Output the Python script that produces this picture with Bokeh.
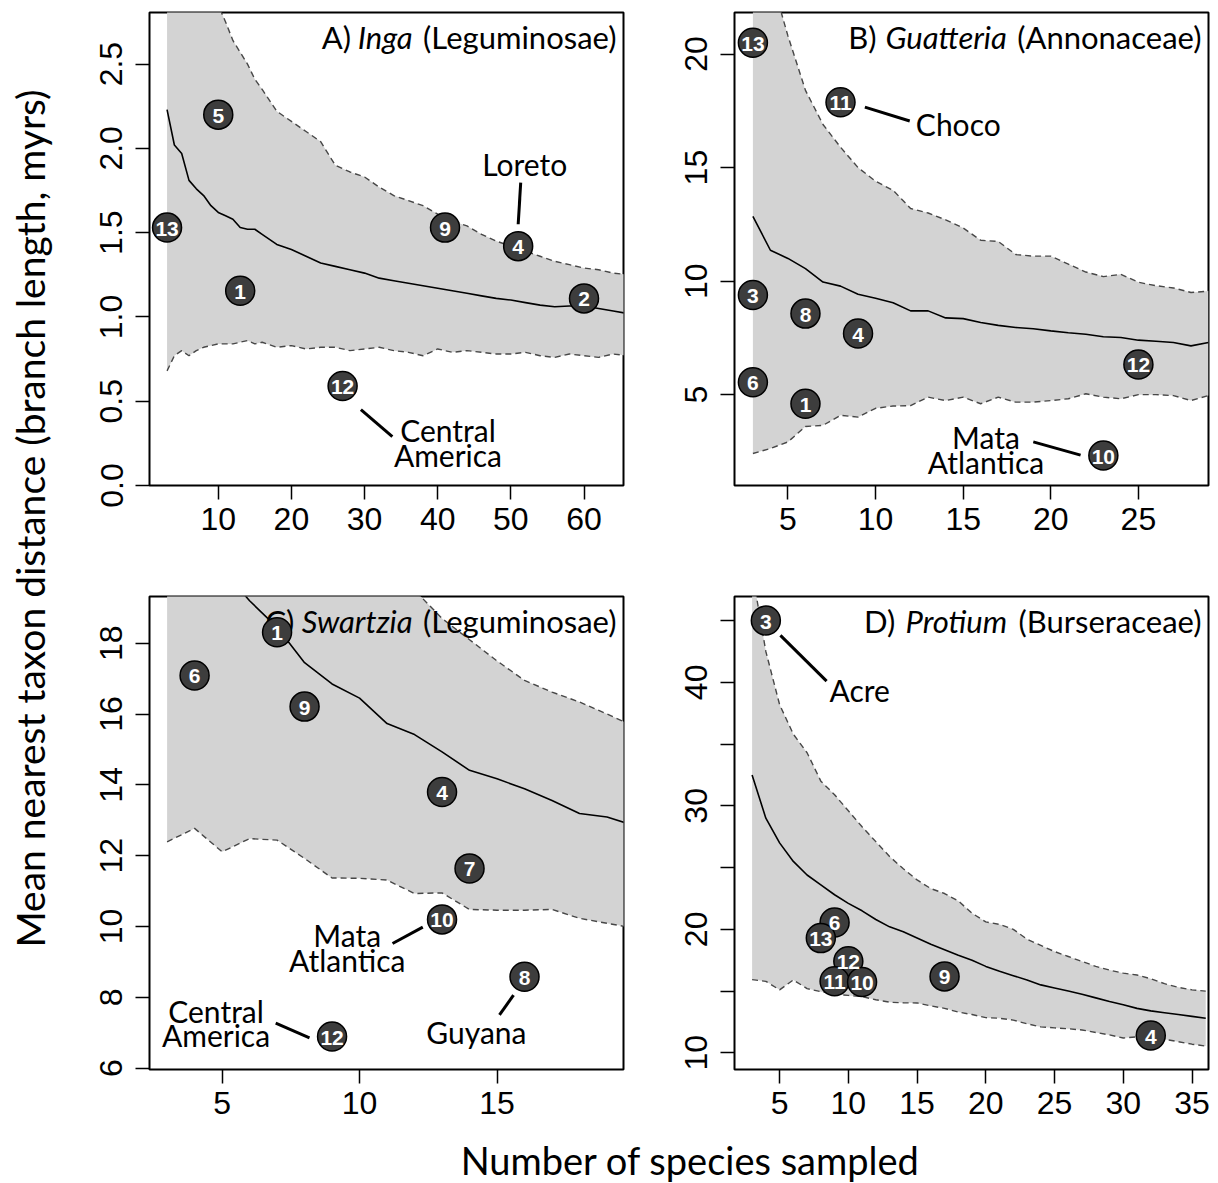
import math
from bokeh.plotting import figure
from bokeh.layouts import column, row
from bokeh.models import Range1d, FixedTicker, NumeralTickFormatter
from bokeh.embed import file_html
from bokeh.resources import INLINE
from bokeh.core.properties import value

# ---------------- data ----------------
# Panel A: Inga (Leguminosae)
a_x = [3, 4, 5, 6, 7, 8, 9, 10, 11, 12, 13, 14, 15, 16, 18, 20, 22, 24, 26, 28, 30, 32, 34, 36,
       38, 40, 42, 44, 46, 48, 50, 52, 54, 56, 58, 60, 62, 64, 66]
a_mean = [2.23, 2.02, 1.97, 1.81, 1.76, 1.72, 1.66, 1.62, 1.60, 1.58, 1.53, 1.52, 1.52, 1.49,
          1.43, 1.40, 1.36, 1.32, 1.30, 1.28, 1.26, 1.23, 1.215, 1.20, 1.185, 1.17, 1.155, 1.14,
          1.125, 1.11, 1.10, 1.085, 1.07, 1.06, 1.065, 1.065, 1.05, 1.035, 1.02]
a_upper = [4.5, 3.9, 3.5, 3.3, 3.15, 3.0, 2.92, 2.85, 2.75, 2.64, 2.57, 2.50, 2.41, 2.35,
           2.22, 2.16, 2.10, 2.04, 1.90, 1.86, 1.83, 1.77, 1.72, 1.69, 1.66, 1.61, 1.57, 1.54,
           1.49, 1.45, 1.42, 1.39, 1.36, 1.33, 1.31, 1.29, 1.28, 1.26, 1.25]
a_lower = [0.68, 0.77, 0.80, 0.77, 0.80, 0.82, 0.83, 0.84, 0.84, 0.84, 0.85, 0.86, 0.84, 0.85,
           0.82, 0.83, 0.81, 0.82, 0.82, 0.80, 0.81, 0.82, 0.80, 0.79, 0.77, 0.81, 0.79, 0.80,
           0.79, 0.78, 0.78, 0.79, 0.77, 0.76, 0.78, 0.77, 0.76, 0.78, 0.77]
a_pt_x = [3, 10, 13, 27, 41, 51, 60]
a_pt_y = [1.53, 2.20, 1.155, 0.59, 1.53, 1.42, 1.11]
a_pt_lab = ["13", "5", "1", "12", "9", "4", "2"]

# Panel B: Guatteria (Annonaceae)
b_x = list(range(3, 30))
b_mean = [12.85, 11.36, 11.0, 10.55, 9.96, 9.78, 9.42, 9.25, 9.05, 8.69, 8.69, 8.38, 8.35, 8.18,
          8.05, 7.96, 7.9, 7.81, 7.73, 7.66, 7.55, 7.52, 7.40, 7.35, 7.30, 7.15, 7.30]
b_upper = [27.0, 23.5, 20.8, 18.4, 16.9, 15.9, 15.0, 14.4, 14.0, 13.2, 13.0, 12.7, 12.34, 11.8,
           11.75, 11.17, 11.1, 11.1, 10.75, 10.4, 10.2, 10.3, 9.95, 9.8, 9.7, 9.5, 9.56]
b_lower = [2.41, 2.63, 2.92, 3.6, 3.65, 4.09, 4.01, 4.4, 4.5, 4.52, 4.89, 4.74, 4.89, 4.6,
           4.89, 4.67, 4.67, 4.74, 4.82, 5.04, 4.89, 4.82, 5.0, 5.0, 4.96, 4.74, 4.96]
b_pt_x = [3, 8, 3, 6, 9, 3, 6, 25, 23]
b_pt_y = [20.5, 17.88, 9.39, 8.57, 7.69, 5.55, 4.6, 6.33, 2.32]
b_pt_lab = ["13", "11", "3", "8", "4", "6", "1", "12", "10"]

# Panel C: Swartzia (Leguminosae)
c_x = list(range(3, 21))
c_mean = [22.0, 20.9, 20.1, 19.2, 18.45, 17.45, 16.85, 16.45, 15.73, 15.42, 14.93, 14.41,
          14.17, 13.89, 13.56, 13.19, 13.09, 12.85]
c_upper = [28.0, 26.5, 25.0, 23.8, 22.7, 21.8, 21.0, 20.4, 19.9, 19.5, 18.7, 18.1, 17.5, 16.95,
           16.62, 16.34, 16.0, 15.65]
c_lower = [12.39, 12.77, 12.11, 12.48, 12.44, 11.92, 11.37, 11.36, 11.31, 10.93, 10.95, 10.48,
           10.46, 10.46, 10.48, 10.23, 10.09, 9.95]
c_pt_x = [7, 4, 8, 13, 14, 13, 16, 9]
c_pt_y = [18.31, 17.09, 16.21, 13.80, 11.64, 10.2, 8.58, 6.89]
c_pt_lab = ["1", "6", "9", "4", "7", "10", "8", "12"]

# Panel D: Protium (Burseraceae)
d_x = list(range(3, 37))
d_mean = [32.5, 29.0, 27.0, 25.5, 24.4, 23.6, 22.8, 22.1, 21.5, 20.8, 20.2, 19.8, 19.3, 18.8,
          18.35, 17.9, 17.5, 17.0, 16.6, 16.25, 15.9, 15.5, 15.25, 15.0, 14.75, 14.45, 14.15,
          13.9, 13.6, 13.4, 13.25, 13.1, 12.95, 12.8]
d_upper = [49.0, 42.5, 38.2, 35.8, 34.3, 32.0, 30.9, 29.6, 28.3, 27.1, 25.9, 24.9, 24.0, 23.3,
           22.9, 22.3, 21.3, 20.6, 20.4, 20.0, 19.2, 18.7, 18.2, 17.8, 17.4, 17.0, 16.7, 16.45,
           16.3, 16.0, 15.6, 15.3, 15.1, 15.0]
d_lower = [15.93, 15.79, 15.1, 15.9, 15.2, 14.95, 14.75, 14.65, 14.55, 14.3, 14.1, 14.05,
           14.04, 13.8, 13.6, 13.3, 13.1, 12.85, 12.8, 12.65, 12.35, 12.1, 12.02, 11.95, 11.85,
           11.65, 11.45, 11.2, 11.3, 11.35, 11.1, 10.9, 10.7, 10.55]
d_pt_x = [4, 9, 8, 10, 9, 11, 17, 32]
d_pt_y = [45.0, 20.56, 19.29, 17.41, 15.8, 15.74, 16.19, 11.4]
d_pt_lab = ["3", "6", "13", "12", "11", "10", "9", "4"]

# region annotations: (text, x, y) and leader lines (x0, y0, x1, y1)
a_notes = [("Loreto", 51.9, 1.906), ("Central", 41.4, 0.332), ("America", 41.4, 0.183)]
a_leads = [(51.35, 1.797, 51.0, 1.55), (29.5, 0.45, 33.8, 0.29)]
b_notes = [("Choco", 14.72, 16.93), ("Mata", 16.3, 3.14), ("Atlantica", 16.3, 2.04)]
b_leads = [(9.39, 17.66, 11.95, 17.05), (19.0, 2.92, 21.7, 2.34)]
c_notes = [("Mata", 9.55, 9.76), ("Atlantica", 9.55, 9.04), ("Central", 4.78, 7.6),
           ("America", 4.78, 6.94), ("Guyana", 14.25, 7.03)]
c_leads = [(11.2, 9.52, 12.3, 9.98), (6.95, 7.27, 8.18, 6.85), (15.09, 7.5, 15.6, 8.06)]
d_notes = [("Acre", 10.83, 39.36)]
d_leads = [(5.06, 43.8, 8.42, 40.1)]

# axis ticks
a_xticks = [10, 20, 30, 40, 50, 60]
a_yticks = [0.0, 0.5, 1.0, 1.5, 2.0, 2.5]
b_xticks = [5, 10, 15, 20, 25]
b_yticks = [5, 10, 15, 20]
c_xticks = [5, 10, 15]
c_yticks = [6, 8, 10, 12, 14, 16, 18]
d_xticks = [5, 10, 15, 20, 25, 30, 35]
d_yticks = [10, 20, 30, 40]
d_yminor = [15, 25, 35, 45]

# ---------------- style ----------------
TICK_FONT = "Liberation Sans"
TEXT_FONT = "Lato"
FW, FH = 474, 473
TITLE_SIZE = 31

LATO_W = {'(': 0.30, ')': 0.30, 'A': 0.68, 'B': 0.63, 'C': 0.66, 'D': 0.73, 'G': 0.72,
          'I': 0.27, 'L': 0.49, 'P': 0.59, 'S': 0.51, 'a': 0.51, 'b': 0.56, 'c': 0.46,
          'e': 0.53, 'g': 0.50, 'h': 0.56, 'i': 0.24, 'm': 0.85, 'n': 0.56, 'o': 0.56,
          'r': 0.38, 's': 0.43, 't': 0.35, 'u': 0.56, 'w': 0.78, 'y': 0.50, 'z': 0.46}


def est_w(s, size, style):
    w = sum(LATO_W.get(ch, 0.5) for ch in s) * size
    return w * (0.96 if style == "italic" else 1.0)


def panel(xr, yr, xticks, yticks, borders, yfmt=None, yminor=None):
    l, r, t, b = borders
    p = figure(frame_width=FW, frame_height=FH, x_range=Range1d(*xr), y_range=Range1d(*yr),
               output_backend="svg", toolbar_location=None, title=None,
               min_border_left=l, min_border_right=r, min_border_top=t, min_border_bottom=b)
    p.grid.visible = False
    p.outline_line_color = "black"
    p.outline_line_width = 2
    p.background_fill_color = "white"
    p.border_fill_color = "white"
    p.xaxis.ticker = FixedTicker(ticks=xticks)
    if yminor:
        p.yaxis.ticker = FixedTicker(ticks=yticks, minor_ticks=yminor)
    else:
        p.yaxis.ticker = FixedTicker(ticks=yticks)
    if yfmt:
        p.yaxis.formatter = NumeralTickFormatter(format=yfmt)
    for ax in (p.xaxis[0], p.yaxis[0]):
        ax.axis_line_color = None
        ax.major_tick_in = 0
        ax.major_tick_out = 14
        ax.major_tick_line_color = "black"
        ax.major_tick_line_width = 1.5
        ax.minor_tick_in = 0
        ax.minor_tick_out = 14
        ax.minor_tick_line_width = 1.5
        ax.minor_tick_line_color = "black" if (ax is p.yaxis[0] and yminor) else None
        ax.major_label_text_font = TICK_FONT
        ax.major_label_text_font_size = "32px"
        ax.major_label_text_color = "black"
    p.xaxis.major_label_standoff = 8
    p.yaxis.major_label_standoff = 13
    p.yaxis.major_label_orientation = "vertical"
    return p


def draw(p, xs, mean, upper, lower, px, py, plab, notes, leads, title_parts):
    p.varea(x=xs, y1=lower, y2=upper, fill_color="#d3d3d3")
    p.line(xs, upper, line_color="#474747", line_width=1.4, line_dash="6 4")
    p.line(xs, lower, line_color="#474747", line_width=1.4, line_dash="6 4")
    p.line(xs, mean, line_color="black", line_width=1.6)
    # panel title, right aligned at the top-right corner
    xe, ye = p.x_range.end, p.y_range.end
    size = TITLE_SIZE
    right = -7
    gap = 0.22 * size
    for txt, style in reversed(title_parts):
        p.text(x=[xe], y=[ye], text=[txt], x_offset=right, y_offset=24,
               text_font=value(TEXT_FONT), text_font_style=style,
               text_font_size=f"{size}px", text_align="right", text_baseline="middle",
               text_color="black")
        right -= est_w(txt, size, style) + gap
    # leader lines and region names
    p.segment(x0=[s[0] for s in leads], y0=[s[1] for s in leads],
              x1=[s[2] for s in leads], y1=[s[3] for s in leads],
              line_color="black", line_width=3)
    p.text(x=[n[1] for n in notes], y=[n[2] for n in notes], text=[n[0] for n in notes],
           text_font=value(TEXT_FONT), text_font_size="30px", text_align="center",
           text_baseline="middle", text_color="black")
    # numbered sites
    p.scatter(px, py, marker="circle", size=29, fill_color="#3d3d3d",
              line_color="black", line_width=1.5)
    p.text(x=px, y=py, text=plab, text_font=value(TICK_FONT), text_font_style="bold",
           text_font_size="21px", text_align="center", text_baseline="middle",
           text_color="white", y_offset=1)


TOP_B = 70
BOT_B = 62
pA = panel((0.6, 65.4), (0.0, 2.806), a_xticks, a_yticks, (89, 30, 12, TOP_B), yfmt="0.0")
pB = panel((1.95, 29.0), (1.0, 21.83), b_xticks, b_yticks, (81, 11, 12, TOP_B))
pC = panel((2.36, 19.6), (5.96, 19.32), c_xticks, c_yticks, (89, 30, 41, BOT_B))
pD = panel((1.72, 36.2), (8.65, 46.95), d_xticks, d_yticks, (81, 11, 41, BOT_B), yminor=d_yminor)

draw(pA, a_x, a_mean, a_upper, a_lower, a_pt_x, a_pt_y, a_pt_lab, a_notes, a_leads,
     [("A)", "normal"), ("Inga", "italic"), ("(Leguminosae)", "normal")])
draw(pB, b_x, b_mean, b_upper, b_lower, b_pt_x, b_pt_y, b_pt_lab, b_notes, b_leads,
     [("B)", "normal"), ("Guatteria", "italic"), ("(Annonaceae)", "normal")])
draw(pC, c_x, c_mean, c_upper, c_lower, c_pt_x, c_pt_y, c_pt_lab, c_notes, c_leads,
     [("C)", "normal"), ("Swartzia", "italic"), ("(Leguminosae)", "normal")])
draw(pD, d_x, d_mean, d_upper, d_lower, d_pt_x, d_pt_y, d_pt_lab, d_notes, d_leads,
     [("D)", "normal"), ("Protium", "italic"), ("(Burseraceae)", "normal")])

# axis titles
GRID_H = 12 + FH + TOP_B + 41 + FH + BOT_B
YT_W = 60
yt = figure(width=YT_W, height=GRID_H, x_range=Range1d(0, YT_W), y_range=Range1d(0, GRID_H),
            output_backend="svg", toolbar_location=None, title=None, min_border=0,
            x_axis_location=None, y_axis_location=None)
yt.grid.visible = False
yt.outline_line_color = None
yt.text(x=[29], y=[GRID_H - 518], text=["Mean nearest taxon distance (branch length, myrs)"],
        angle=math.pi / 2, text_font=value(TEXT_FONT), text_font_size="39px",
        text_align="center", text_baseline="middle", text_color="black")

XT_H = 1183 - GRID_H
xt = figure(width=1218, height=XT_H, x_range=Range1d(0, 1218), y_range=Range1d(0, XT_H),
            output_backend="svg", toolbar_location=None, title=None, min_border=0,
            x_axis_location=None, y_axis_location=None)
xt.grid.visible = False
xt.outline_line_color = None
xt.text(x=[690], y=[XT_H - (1159 - GRID_H)], text=["Number of species sampled"],
        text_font=value(TEXT_FONT), text_font_size="38px",
        text_align="center", text_baseline="middle", text_color="black")

page = column(row(yt, column(row(pA, pB), row(pC, pD))), xt)
open("out.html", "w").write(file_html(page, INLINE, title="NRI panels"))
